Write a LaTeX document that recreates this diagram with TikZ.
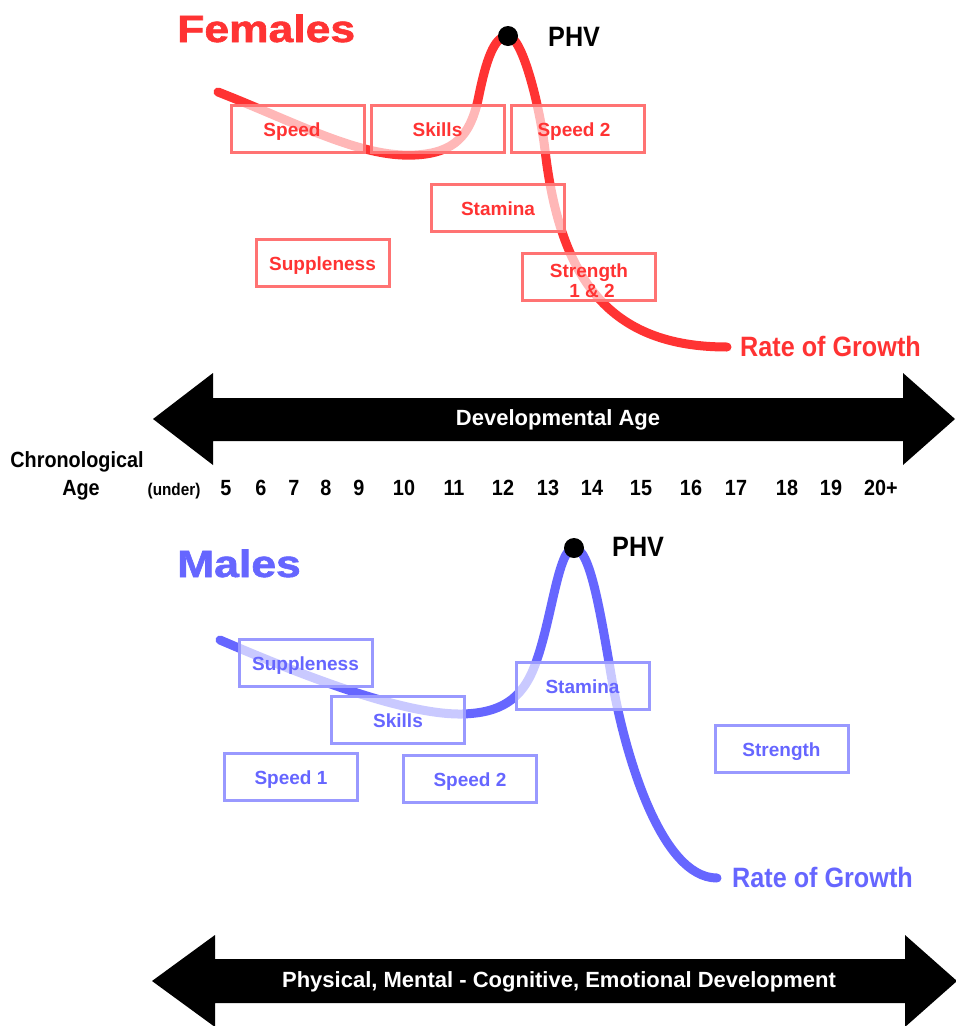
\documentclass[tikz,border=0pt]{standalone}
\usepackage{fontspec}
\usepackage{graphicx}
\setmainfont{Liberation Sans}
\newfontface\heavyfont{Liberation Sans Bold}[FakeBold=1.5]
\definecolor{fred}{HTML}{FF3333}
\definecolor{fboxc}{HTML}{FF7373}
\definecolor{mblue}{HTML}{6666FF}
\definecolor{mboxc}{HTML}{9999FF}
\newcommand\fsz[1]{\fontsize{#1}{#1}\selectfont}
\newcommand\fszb{\fontsize{19}{20}\selectfont}
\newcommand\narrowtxt[1]{\scalebox{0.9}[1]{#1}}
\begin{document}
\begin{tikzpicture}[x=1pt,y=-1pt,
  fbx/.style={draw=fboxc, line width=3pt, fill=white, fill opacity=0.65, text opacity=1, text=fred,
    minimum width=133pt, minimum height=47pt, inner sep=0pt, align=center, font=\fszb\bfseries,
    text height=15pt, text depth=0pt},
  mbx/.style={fbx, draw=mboxc, text=mblue},
  boxlbl/.style={anchor=base, inner sep=0pt, text=fred, font=\fszb\bfseries},
  fcurve/.style={draw=fred, line width=9pt, line cap=round},
  mcurve/.style={draw=mblue, line width=9pt, line cap=round},
  dot/.style={circle, fill=black, minimum size=20pt, inner sep=0pt},
  title/.style={anchor=base west, inner sep=0pt, font=\heavyfont\fsz{38}},
  phv/.style={anchor=west, inner sep=0pt, font=\bfseries\fsz{28}, text=black},
  rog/.style={anchor=west, inner sep=0pt, font=\bfseries\fsz{28}},
  axlabel/.style={anchor=base, inner sep=0pt, font=\bfseries\fsz{22}},
  bartext/.style={inner sep=0pt, text=white, font=\bfseries\fsz{22}},
  bigarrow/.style={fill=black}
]
\useasboundingbox (0,0) rectangle (956,1026);
\clip (0,0) rectangle (956,1026);

% ---------- Females ----------
\coordinate (fs) at (218,92);
\coordinate (fe) at (727,347);
\draw[fcurve] (fs) .. controls (295,122) and (360,158) .. (415,155)
  .. controls (455,153) and (470,135) .. (478,100)
  .. controls (486,60) and (494,36) .. (508,36)
  .. controls (522,36) and (539.5,104.5) .. (545,150)
  .. controls (560,280) and (610,347) .. (fe);

\node[fbx] (fspeed) at (298,129) {\hspace{-12pt}Speed};
\node[fbx] (fskills) at (437.5,129) {Skills};
\node[fbx] (fspeed2) at (578,129) {\hspace{-8pt}Speed 2};
\node[fbx] (fstamina) at (498,208) {Stamina};
\node[fbx] (fsupple) at (322.5,263) {Suppleness};
\node[fbx] (fstrength) at (589,277) {};
\node[boxlbl] (fstr1) at (589,277) {Strength};
\node[boxlbl] (fstr2) at (592,297) {1 \& 2};

\node[dot] (fpeak) at (508,36) {};
\node[phv] (fphv) at (548,37) {\narrowtxt{PHV}};
\node[title, text=fred] (ftitle) at (177,42) {\scalebox{1.17}[1]{Females}};
\node[rog, text=fred] (frog) at (740,346) {\narrowtxt{Rate of Growth}};

% ---------- Developmental age arrow ----------
\fill[bigarrow] (153,419) -- (213,373) -- (213,398) -- (903,398) -- (903,373) -- (955,419)
  -- (903,465) -- (903,441) -- (213,441) -- (213,465) -- cycle;
\node[bartext] (devage) at (558,420) {Developmental Age};

% ---------- Chronological age ----------
\node[axlabel] (chrono) at (77,467) {\narrowtxt{Chronological}};
\node[axlabel] (agelbl) at (81,495) {\narrowtxt{Age}};
\node[axlabel, font=\bfseries\fsz{17}] (under) at (174,495) {\narrowtxt{(under)}};
\foreach \x/\n in {226/5,261/6,294/7,326/8,359/9,404/10,454/11,503/12,548/13,592/14,641/15,691/16,736/17,787/18,831/19,881/20+}
  \node[axlabel] (age\n) at (\x,495) {\narrowtxt{\n}};

% ---------- Males ----------
\coordinate (ms) at (220,640);
\coordinate (me) at (717,878);
\draw[mcurve] (ms) .. controls (290,670) and (400,715) .. (462,714)
  .. controls (500,713) and (522,700) .. (535,665)
  .. controls (552,620) and (558,548) .. (574,548)
  .. controls (590,548) and (600,610) .. (612,680)
  .. controls (624,750) and (660,878) .. (me);

\node[mbx] (msupple) at (305.5,663) {Suppleness};
\node[mbx] (mskills) at (398,719.5) {Skills};
\node[mbx] (mstamina) at (582.5,686) {Stamina};
\node[mbx] (mspeed1) at (291,776.5) {Speed 1};
\node[mbx] (mspeed2) at (470,779) {Speed 2};
\node[mbx] (mstrength) at (781.5,748.5) {Strength};

\node[dot] (mpeak) at (574,548) {};
\node[phv] (mphv) at (612,547) {\narrowtxt{PHV}};
\node[title, text=mblue] (mtitle) at (177,577) {\scalebox{1.17}[1]{Males}};
\node[rog, text=mblue] (mrog) at (732,877) {\narrowtxt{Rate of Growth}};

% ---------- Development arrow ----------
\fill[bigarrow] (152,981) -- (215,935) -- (215,959) -- (905,959) -- (905,935) -- (957,981)
  -- (905,1027) -- (905,1003) -- (215,1003) -- (215,1027) -- cycle;
\node[bartext] (devel) at (559,982) {Physical, Mental - Cognitive, Emotional Development};
\end{tikzpicture}
\end{document}
